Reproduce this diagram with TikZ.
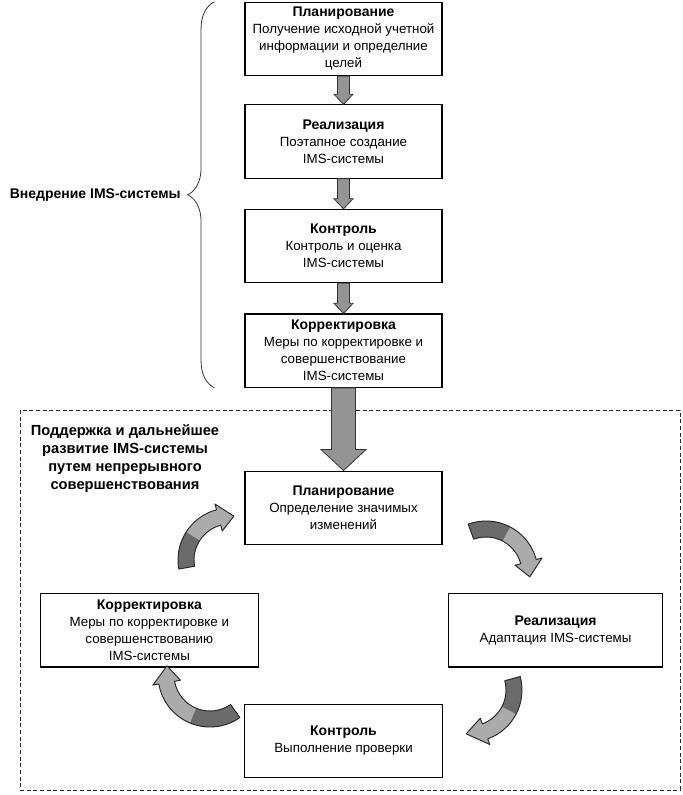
\documentclass[tikz,border=0pt]{standalone}
\usepackage{fontspec}
\setmainfont{Liberation Sans}
\usetikzlibrary{arrows.meta, positioning, calc, decorations.pathreplacing}

\newcommand{\stagetitle}[1]{{\fontsize{10.5}{12.75}\selectfont\bfseries #1}}

% straight block arrow: from, to, shaft half width, head half width, head length
\newcommand{\blockarrow}[5]{%
  \filldraw[block arrow] ($(#1)+(-#3,0)$) -- ($(#2)+(-#3,#5)$) -- ($(#2)+(-#4,#5)$)
    -- (#2) -- ($(#2)+(#4,#5)$) -- ($(#2)+(#3,#5)$) -- ($(#1)+(#3,0)$) -- cycle;}

% curved cycle arrow: centre, start angle, end angle, tip angle
\newcommand{\cyclearrow}[4]{%
  \pgfmathsetmacro{\cmid}{(#2+#3)/2}
  \fill[cycle light] ($(#1)+(#2:52)$) arc[start angle=#2, end angle=#3, radius=52]
    -- ($(#1)+(#3:58)$) -- ($(#1)+(#4:44)$) -- ($(#1)+(#3:30)$) -- ($(#1)+(#3:36)$)
    arc[start angle=#3, end angle=#2, radius=36] -- cycle;
  \fill[cycle dark] ($(#1)+(#2:52)$) arc[start angle=#2, end angle=\cmid, radius=52]
    -- ($(#1)+(\cmid:36)$) arc[start angle=\cmid, end angle=#2, radius=36] -- cycle;
  \draw[cycle edge] ($(#1)+(#2:52)$) arc[start angle=#2, end angle=#3, radius=52]
    -- ($(#1)+(#3:58)$) -- ($(#1)+(#4:44)$) -- ($(#1)+(#3:30)$) -- ($(#1)+(#3:36)$)
    arc[start angle=#3, end angle=#2, radius=36] -- cycle;}

\begin{document}
\begin{tikzpicture}[
    x=0.75pt, y=0.75pt,
    % Node styles
    stagebox/.style={
        rectangle, draw=black, line width=0.9pt, fill=white,
        minimum width=#1, minimum height=55pt,
        align=center, inner sep=2pt,
        font=\fontsize{10}{12.75}\selectfont,
    },
    stagebox/.default=147.75pt,
    phase label/.style={
        font=\fontsize{11}{13.5}\selectfont\bfseries, align=center,
    },
    brace label/.style={
        font=\fontsize{10.5}{13}\selectfont\bfseries, inner sep=1pt,
    },
    frame/.style={
        draw=black!85, line width=0.6pt, dash pattern=on 3pt off 2pt,
    },
    brace line/.style={
        draw=black!80, line width=0.6pt,
    },
    block arrow/.style={
        draw=black!80, line width=0.6pt, fill=black!42,
    },
    cycle light/.style={fill=black!33},
    cycle dark/.style={fill=black!58},
    cycle edge/.style={draw=black!85, line width=0.7pt, line join=round},
]
\useasboundingbox (0,0) rectangle (682,-795);

% === Implementation: four stages ===
\node[stagebox] (plan1) at (343.5,-39)
    {\stagetitle{Планирование}\\Получение исходной учетной\\информации и определние\\целей};
\node[stagebox] (real1) [below=21pt of plan1]
    {\stagetitle{Реализация}\\Поэтапное создание\\IMS-системы};
\node[stagebox] (ctrl1) [below=22.5pt of real1]
    {\stagetitle{Контроль}\\Контроль и оценка\\IMS-системы};
\node[stagebox] (corr1) [below=22.5pt of ctrl1]
    {\stagetitle{Корректировка}\\Меры по корректировке и\\совершенствование\\IMS-системы};

% === Brace and its label ===
\draw[brace line, decorate, decoration={brace, amplitude=20pt}]
    ($(corr1.south west)+(-30,0)$) -- ($(plan1.north west)+(-30,0)$)
    node[brace label, midway, left=24pt] (impl) {Внедрение IMS-системы};

% === Support: continuous improvement cycle ===
\draw[frame] (20,-410) rectangle (680,-790);
\node[phase label] (support) at (125,-459)
    {Поддержка и дальнейшее\\развитие IMS-системы\\путем непрерывного\\совершенствования};

\node[stagebox] (plan2) [below=62pt of corr1]
    {\stagetitle{Планирование}\\Определение значимых\\изменений};
\node[stagebox=149pt] (ctrl2) [below=119pt of plan2]
    {\stagetitle{Контроль}\\Выполнение проверки};
\node[stagebox=160.5pt] (real2) [below right=36pt and 4pt of plan2]
    {\stagetitle{Реализация}\\Адаптация IMS-системы};
\node[stagebox=163.5pt] (corr2) [left=141.75pt of real2]
    {\stagetitle{Корректировка}\\Меры по корректировке и\\совершенствованию\\IMS-системы};

% === Straight arrows ===
\blockarrow{plan1.south}{real1.north}{6}{9.5}{10}
\blockarrow{real1.south}{ctrl1.north}{6}{9.5}{10}
\blockarrow{ctrl1.south}{corr1.north}{6}{9.5}{10}
\blockarrow{corr1.south}{plan2.north}{12}{22.5}{21}

% === Cycle arrows ===
\coordinate (cyc1) at (230,-560);
\coordinate (cyc2) at (486,-573);
\coordinate (cyc3) at (470,-690);
\coordinate (cyc4) at (210,-675);
\cyclearrow{cyc1}{190}{105}{85}
\cyclearrow{cyc2}{110}{15}{-5}
\cyclearrow{cyc3}{15}{-70}{-95}
\cyclearrow{cyc4}{-55}{-170}{-192}

\end{tikzpicture}
\end{document}
